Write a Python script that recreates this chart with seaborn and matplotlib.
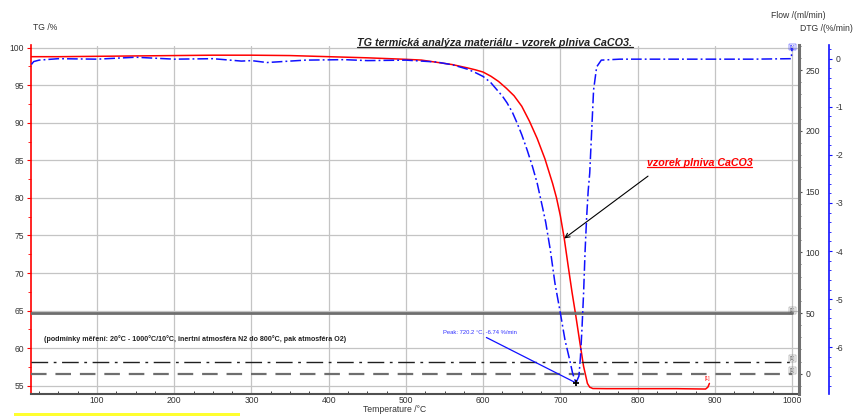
import numpy as np
import pandas as pd
import seaborn as sns
import matplotlib.pyplot as plt
from matplotlib.lines import Line2D
from matplotlib.patches import Rectangle
from matplotlib.ticker import MultipleLocator, FixedLocator
from matplotlib.transforms import IdentityTransform

# --- measured data -------------------------------------------------------
tg_temp = [15, 50, 100, 150, 200, 250, 300, 350, 400, 450, 500, 520, 540, 560,
           580, 590, 600, 610, 620, 630, 640, 650, 660, 670, 680, 690, 695, 700,
           705, 710, 715, 720, 725, 730, 735, 738, 742, 760, 800, 850, 888, 891, 893]
tg_vals = [98.8, 98.8, 98.85, 98.9, 98.95, 99.0, 99.0, 98.95, 98.8, 98.65, 98.45,
           98.35, 98.05, 97.75, 97.3, 97.05, 96.75, 96.2, 95.5, 94.6, 93.6, 92.2,
           90.2, 87.9, 85.2, 81.9, 80.0, 77.6, 74.6, 71.0, 67.5, 64.3, 60.9, 57.6,
           55.3, 54.8, 54.62, 54.6, 54.6, 54.6, 54.55, 54.8, 55.3]

dtg_temp = [15, 18, 25, 50, 100, 150, 200, 250, 287, 300, 320, 370, 420, 450, 500,
            540, 561, 580, 590, 600, 610, 618, 625, 631, 638, 644, 650, 657, 664,
            670, 677, 681, 687, 693, 700, 706, 712, 716, 720.2, 724, 726, 728, 730,
            732, 734, 736, 738, 741, 743, 747, 753, 777, 850, 950, 999, 1000]
dtg_vals = [-0.12, -0.06, -0.03, 0.0, -0.01, 0.03, -0.01, 0.0, -0.05, -0.04, -0.08,
            -0.03, -0.02, -0.04, -0.03, -0.07, -0.13, -0.22, -0.29, -0.37, -0.5,
            -0.65, -0.78, -0.92, -1.12, -1.34, -1.58, -1.9, -2.25, -2.59, -3.1,
            -3.4, -3.98, -4.67, -5.29, -5.85, -6.26, -6.55, -6.74, -6.6, -6.2,
            -5.6, -4.9, -4.0, -3.3, -2.75, -2.38, -1.34, -0.65, -0.17, -0.03, -0.01,
            -0.01, -0.01, 0.0, 0.22]

flow_temp = [15, 1000]
flow_main = [50, 50]
flow_aux = [10, 10]
flow_zero = [0, 0]

peak_temp, peak_dtg = 720.2, -6.74

# --- figure --------------------------------------------------------------
sns.set_theme(style="white")
plt.rcParams['font.family'] = ['Liberation Sans', 'DejaVu Sans']
plt.rcParams['axes.unicode_minus'] = False

W, H = 854, 416
fig = plt.figure(figsize=(W / 100, H / 100), dpi=100)
fig.patch.set_facecolor('white')


def fpx(x, y):
    return x / W, 1 - y / H


ax = fig.add_axes([31 / W, 1 - 394 / H, (799 - 31) / W, (394 - 45.5) / H])
ax.set_facecolor('white')
ax.set_xlim(14.5, 1009)
ax.set_ylim(53.89, 100.29)

# grid
for t in range(100, 1001, 100):
    ax.axvline(t, color='#c4c4c4', lw=0.9, zorder=0)
for v in range(55, 101, 5):
    ax.axhline(v, color='#c4c4c4', lw=0.9, zorder=0)

# TG curve
sns.lineplot(x=tg_temp, y=tg_vals, ax=ax, color='red', lw=1.1, sort=False,
             estimator=None, zorder=3)

ax.set_xlabel('')
ax.set_ylabel('')
for s in ['top', 'right']:
    ax.spines[s].set_visible(False)
ax.spines['left'].set_color('red')
ax.spines['left'].set_linewidth(1.2)
ax.spines['bottom'].set_color('#505050')
ax.spines['bottom'].set_linewidth(1.5)

ax.xaxis.set_major_locator(FixedLocator(list(range(100, 1001, 100))))
ax.xaxis.set_minor_locator(MultipleLocator(25))
ax.tick_params(axis='x', which='both', direction='in', colors='#404040',
               labelcolor='#333333', labelsize=6.2, pad=1.5)
ax.tick_params(axis='x', which='major', length=0)
ax.tick_params(axis='x', which='minor', length=2.5, width=0.7, bottom=True)
ax.yaxis.set_major_locator(FixedLocator(list(range(55, 101, 5))))
ax.yaxis.set_minor_locator(MultipleLocator(2.5))
ax.tick_params(axis='y', which='both', direction='out', colors='red',
               labelcolor='#333333', labelsize=6.2, left=True, pad=2)
ax.tick_params(axis='y', which='major', length=3, width=0.8)
ax.tick_params(axis='y', which='minor', length=2, width=0.6)

# Flow axis
axf = ax.twinx()
axf.set_ylim(-16.7, 270.3)
sns.lineplot(x=flow_temp, y=flow_main, ax=axf, color='#6e6e6e', lw=2.0,
             estimator=None, sort=False)
sns.lineplot(x=flow_temp, y=flow_aux, ax=axf, color='#202020', lw=1.0,
             linestyle=(0, (12, 4, 2, 4)), estimator=None, sort=False)
sns.lineplot(x=flow_temp, y=flow_zero, ax=axf, color='#6e6e6e', lw=1.6,
             linestyle=(0, (7, 4)), estimator=None, sort=False)
axf.set_ylabel('')
for s in ['top', 'left', 'bottom']:
    axf.spines[s].set_visible(False)
axf.spines['right'].set_color('#707070')
axf.spines['right'].set_linewidth(2.2)
axf.yaxis.set_major_locator(FixedLocator(list(range(0, 251, 50))))
axf.yaxis.set_minor_locator(MultipleLocator(10))
axf.tick_params(axis='y', which='both', direction='out', colors='#505050',
                labelcolor='#333333', labelsize=6.2, right=True, pad=2)
axf.tick_params(axis='y', which='major', length=2.5, width=0.8)
axf.tick_params(axis='y', which='minor', length=1.5, width=0.6)

# DTG axis
axd = ax.twinx()
axd.set_ylim(-6.971, 0.274)
axd.spines['right'].set_position(('outward', 21.6))
sns.lineplot(x=dtg_temp, y=dtg_vals, ax=axd, color='#1010ff', lw=1.1,
             linestyle=(0, (7, 2, 1.2, 2)), estimator=None, sort=False)
axd.set_ylabel('')
for s in ['top', 'left', 'bottom']:
    axd.spines[s].set_visible(False)
axd.spines['right'].set_color('#1010ff')
axd.spines['right'].set_linewidth(1.2)
axd.yaxis.set_major_locator(FixedLocator(list(range(-6, 1))))
axd.yaxis.set_minor_locator(MultipleLocator(0.2))
axd.tick_params(axis='y', which='both', direction='out', colors='#1010ff',
                labelcolor='#333333', labelsize=6.2, right=True, pad=2)
axd.tick_params(axis='y', which='major', length=2.5, width=0.8)
axd.tick_params(axis='y', which='minor', length=1.5, width=0.6)

# peak of DTG
axd.plot([peak_temp], [peak_dtg], marker='+', color='black', ms=5, mew=1.3, zorder=6)
axd.annotate(f'Peak: {peak_temp} °C, {peak_dtg} %/min', xy=(peak_temp, peak_dtg),
             xytext=(548, -5.676), ha='left', va='center', fontsize=4.2,
             color='#3030ff',
             arrowprops=dict(arrowstyle='-', color='#1010ff', lw=0.9,
                             relpos=(0.5, 0.0), shrinkA=0, shrinkB=0))

# small curve tags
tag = dict(fontsize=3.4, ha='center', va='center')
axd.text(1000, 0.24, '[1]', color='#1010ff',
         bbox=dict(boxstyle='square,pad=0.15', fc='none', ec='#1010ff', lw=0.3), **tag)
ax.text(891, 56.0, '[1]', color='red', **tag)
for yv in [52, 12.5, 2.8]:
    axf.text(1000, yv, '[1]', color='#505050',
             bbox=dict(boxstyle='square,pad=0.15', fc='none', ec='#707070', lw=0.3), **tag)

# sample label with arrow onto the TG curve
tip_t = 705
tip_v = float(np.interp(tip_t, tg_temp, tg_vals))
sample = ax.text(812, 84.65, 'vzorek plniva CaCO3', ha='left', va='center',
                 fontsize=7.7, color='red', fontweight='bold', fontstyle='italic')
ax.annotate('', xy=(tip_t, tip_v), xytext=(813.5, 82.9),
            arrowprops=dict(arrowstyle='->', color='black', lw=0.8,
                            shrinkA=0, shrinkB=0, mutation_scale=8))

# titles and axis captions
title = fig.text(*fpx(495, 42.5), 'TG termická analýza materiálu - vzorek plniva CaCO3.',
                 ha='center', va='center', fontsize=7.75, fontweight='bold',
                 fontstyle='italic', color='#222222')
fig.text(*fpx(33, 28), 'TG /%', ha='left', va='center', fontsize=6.2, color='#333333')
fig.text(*fpx(826, 16), 'Flow /(ml/min)', ha='right', va='center', fontsize=6.2,
         color='#333333')
fig.text(*fpx(853, 28.5), 'DTG /(%/min)', ha='right', va='center', fontsize=6.2,
         color='#333333')
fig.text(*fpx(395, 410), 'Temperature /°C', ha='center', va='center', fontsize=6.2,
         color='#333333')
fig.text(*fpx(44, 339), '(podmínky měření: 20°C - 1000°C/10°C, inertní atmosféra N2 '
         'do 800°C, pak atmosféra O2)', ha='left', va='center', fontsize=5.15,
         fontweight='bold', color='#222222')

fig.add_artist(Rectangle(fpx(14, 415.5), (240 - 14) / W, 2.2 / H,
                         transform=fig.transFigure, color='#ffff30', lw=0))

# underline the two headings
fig.canvas.draw()
renderer = fig.canvas.get_renderer()
for t, col in [(title, '#222222'), (sample, 'red')]:
    bb = t.get_window_extent(renderer)
    fig.add_artist(Line2D([bb.x0, bb.x1], [bb.y0 + 0.5, bb.y0 + 0.5],
                          transform=IdentityTransform(), color=col, lw=0.9))

fig.savefig('out.png', dpi=100, facecolor='white')
